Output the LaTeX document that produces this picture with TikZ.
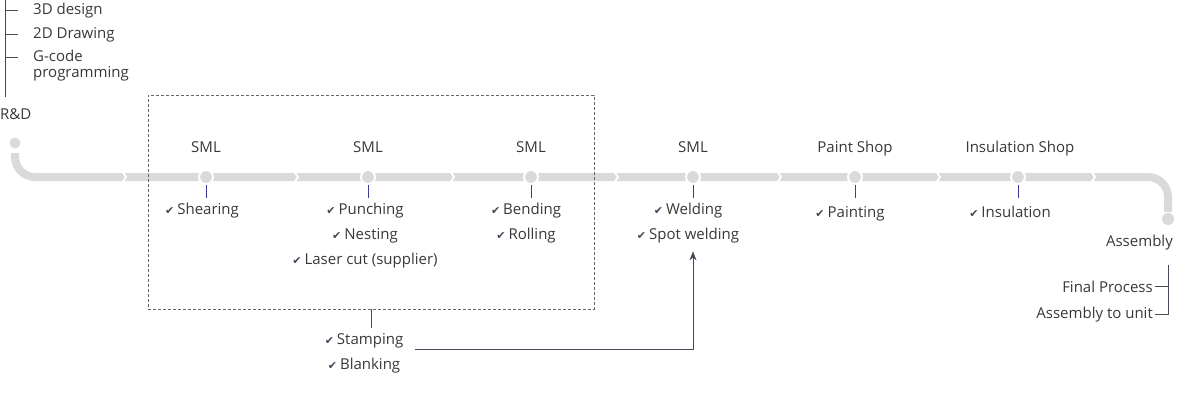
\documentclass[tikz,border=0pt]{standalone}
\usepackage{fontspec}
\setmainfont{Open Sans}
\newfontfamily\symf{DejaVu Sans}
\usetikzlibrary{arrows.meta,positioning}
\definecolor{trackgray}{HTML}{DADADA}
\definecolor{txt}{HTML}{383838}
\definecolor{tickblue}{HTML}{3D3D9E}
\definecolor{linegray}{HTML}{4A4658}
\newcommand{\chk}{{\fontsize{11}{11}\selectfont\symf\textcolor{linegray}{✔}}\hspace{3pt}}

\begin{document}
\begin{tikzpicture}[x=1pt,y=-1pt,>={Stealth[length=9pt,width=7pt]},line join=round,
  every node/.style={text=txt,font=\fontsize{15}{25}\selectfont,inner sep=0pt},
  track/.style={trackgray,line width=8pt},
  stn/.style={circle,fill=trackgray,draw=white,line width=2pt,minimum size=14pt},
  hd/.style={anchor=base},
  lst/.style={align=center,anchor=north},
  bar/.style={linegray,line width=0.9pt}]
\useasboundingbox (0,0) rectangle (1200,400);
% track with chevron gaps
\draw[track,rounded corners=20pt] (15,153) |- (1168,177) -- (1168,212);
\foreach \x in {125,297,453,617,780,939,1094}
  \draw[white,line width=2pt] (\x-3,171) -- (\x+1,177) -- (\x-3,183);
\fill[trackgray] (15,143) circle (5.5pt);
\fill[trackgray] (1168,219) circle (6pt);
% stations
\foreach \n/\x in {1/206,2/368,3/531,4/693,5/855,6/1018}{
  \node[stn] (s\n) at (\x,177) {};
  \draw[tickblue,line width=0.9pt] (s\n.south) -- ++(0,13);
}
\node[hd] (h1) at (206,152) {SML};
\node[hd] (h2) at (368,152) {SML};
\node[hd] (h3) at (531,152) {SML};
\node[hd] (h4) at (693,152) {SML};
\node[hd] (h5) at (855,152) {Paint Shop};
\node[hd] (h6) at (1020,152) {Insulation Shop};
% lists
\node[lst] (l1) at (202,203) {\chk Shearing};
\node[lst] (l2) at (365,203) {\chk Punching\\\chk Nesting\\\chk Laser cut (supplier)};
\node[lst] (l3) at (526,203) {\chk Bending\\\chk Rolling};
\node[lst] (l4) at (688,203) {\chk Welding\\\chk Spot welding};
\node[lst] (l5) at (850,206) {\chk Painting};
\node[lst] (l6) at (1010,206) {\chk Insulation};
% SML group
\node[draw=linegray!85,dash pattern=on 3pt off 2pt,line width=0.8pt,
  minimum width=446pt,minimum height=214pt] (smlbox) at (371,202) {};
\node[lst] (stamp) at (364,333) {\chk Stamping\\\chk Blanking};
\draw[bar] (smlbox.south) -- ++(0,19);
\draw[bar,->] ([xshift=12pt,yshift=4pt]stamp.east) -| ([yshift=-8pt]s4 |- l4.south);
% R&D
\coordinate (lbar) at (5,0);
\node[anchor=base west] (rd) at (0,119) {R\&D};
\node[anchor=base west] (d3) at (33,14) {3D design};
\node[anchor=base west] (d2) at (33,38) {2D Drawing};
\node[anchor=north west,align=left,font=\fontsize{15}{16}\selectfont] (gc) at (33,50) {G-code\\programming};
\draw[bar] (lbar) -- ++(0,97);
\draw[bar] (lbar |- d3.west) -- ++(13,0);
\draw[bar] (lbar |- d2.west) -- ++(13,0);
\draw[bar] (lbar |- 0,57) -- ++(13,0);
% assembly
\coordinate (rbar) at (1168,265);
\node[anchor=base east] (asm) at (1173,246) {Assembly};
\node[anchor=base east] (fin) at (1153,292) {Final Process};
\node[anchor=base east] (atu) at (1153,318) {Assembly to unit};
\draw[bar] (rbar) |- ([xshift=2pt]atu.east);
\draw[bar] ([xshift=2pt]fin.east) -- (fin.east -| rbar);
\end{tikzpicture}
\end{document}
